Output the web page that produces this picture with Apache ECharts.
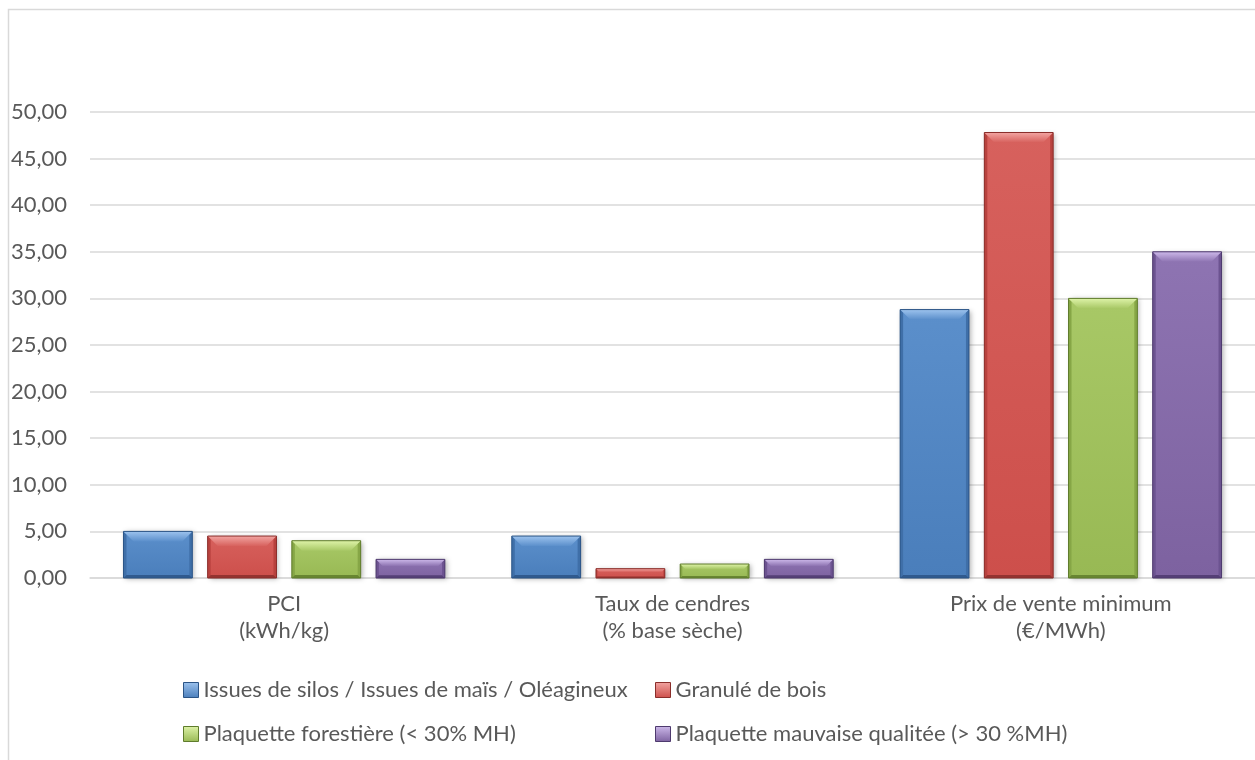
<!DOCTYPE html>
<html>
<head>
<meta charset="utf-8">
<script src="https://cdn.jsdelivr.net/npm/echarts@6/dist/echarts.min.js"></script>
<style>
  html, body { margin: 0; padding: 0; background: #ffffff; }
  #chart { width: 1255px; height: 760px; }
</style>
</head>
<body>
<div id="chart"></div>
<script>
// Categories (two-line axis labels)
const categories = ['PCI\n(kWh/kg)', 'Taux de cendres\n(% base sèche)', 'Prix de vente minimum\n(€/MWh)'];

// Series names
const seriesNames = [
  'Issues de silos / Issues de maïs / Oléagineux',
  'Granulé de bois',
  'Plaquette forestière (< 30% MH)',
  'Plaquette mauvaise qualitée (> 30 %MH)'
];

// Values per series, one per category
const silosValues     = [5.0, 4.5, 28.8];
const granuleValues   = [4.5, 1.0, 47.8];
const forestValues    = [4.0, 1.5, 30.0];
const mauvaiseValues  = [2.0, 2.0, 35.0];

// Y axis ticks
const yMin = 0, yMax = 50, yStep = 5;

const seriesValues = [silosValues, granuleValues, forestValues, mauvaiseValues];

// Bevel palette: body base, body light, top bevel, side, edge
const palettes = [
  { base: '#4a7ebb', light: '#5b8fcb', top: '#9dc3ee', side: '#3f6fa8', edge: '#2b5486' },
  { base: '#cd4f4b', light: '#d7615d', top: '#f2a5a2', side: '#b8423e', edge: '#8a2e2b' },
  { base: '#98b954', light: '#a8c866', top: '#def3a8', side: '#86a646', edge: '#5f7c2c' },
  { base: '#7d62a0', light: '#8e74b2', top: '#cdb9ea', side: '#6c5390', edge: '#4e3a6e' }
];

const FONT = 'Lato, "Open Sans", sans-serif';
const TEXT_COLOR = '#595959';

// Bar geometry as fractions of the category band
const BAR_FRAC = 0.1772;
const GAP_FRAC = 0.0396;

function vGrad(c1, c2) {
  return new echarts.graphic.LinearGradient(0, 0, 0, 1, [
    { offset: 0, color: c1 }, { offset: 1, color: c2 }
  ]);
}

function makeRender(sIdx) {
  const p = palettes[sIdx];
  return function (params, api) {
    const ci = api.value(0);
    const v = api.value(1);
    const base = api.coord([ci, 0]);
    const top = api.coord([ci, v]);
    const band = api.size([1, 0])[0];
    const w = band * BAR_FRAC;
    const g = band * GAP_FRAC;
    const total = 4 * w + 3 * g;
    const x0 = base[0] - total / 2 + sIdx * (w + g);
    const x1 = x0 + w;
    const y0 = top[1];
    const y1 = base[1];
    const h = y1 - y0;
    const b = Math.min(10, h * 0.35);   // top bevel depth
    const s = Math.min(3, h * 0.15);    // side / bottom bevel depth
    return {
      type: 'group',
      children: [
        {
          type: 'rect',
          shape: { x: x0, y: y0, width: w, height: h },
          style: {
            fill: vGrad(p.light, p.base),
            shadowBlur: 5, shadowOffsetX: 2, shadowOffsetY: 1,
            shadowColor: 'rgba(0,0,0,0.30)'
          }
        },
        {
          type: 'polygon',
          shape: { points: [[x0, y0], [x0 + s, y0 + s], [x0 + s, y1 - s], [x0, y1]] },
          style: { fill: p.side }
        },
        {
          type: 'polygon',
          shape: { points: [[x1, y0], [x1 - s, y0 + s], [x1 - s, y1 - s], [x1, y1]] },
          style: { fill: p.side }
        },
        {
          type: 'polygon',
          shape: { points: [[x0, y1], [x0 + s, y1 - s], [x1 - s, y1 - s], [x1, y1]] },
          style: { fill: p.edge, opacity: 0.85 }
        },
        {
          type: 'polygon',
          shape: { points: [[x0, y0], [x1, y0], [x1 - b, y0 + b], [x0 + b, y0 + b]] },
          style: { fill: vGrad(p.top, p.light) }
        },
        {
          type: 'rect',
          shape: { x: x0, y: y0, width: w, height: h },
          style: { fill: 'none', stroke: p.edge, lineWidth: 1 }
        }
      ]
    };
  };
}

const series = seriesValues.map((vals, sIdx) => ({
  name: seriesNames[sIdx],
  type: 'custom',
  renderItem: makeRender(sIdx),
  encode: { x: 0, y: 1 },
  itemStyle: { color: palettes[sIdx].base },
  data: vals.map((v, i) => [i, v])
}));

function legendItem(sIdx) {
  const p = palettes[sIdx];
  return {
    name: seriesNames[sIdx],
    itemStyle: { color: vGrad(p.top, p.base), borderColor: p.edge, borderWidth: 1 }
  };
}

const legendCommon = {
  orient: 'vertical',
  top: 671,
  itemGap: 16,
  itemWidth: 15,
  itemHeight: 15,
  icon: 'rect',
  selectedMode: false,
  textStyle: { fontFamily: FONT, fontSize: 22, color: TEXT_COLOR, lineHeight: 28 }
};

const option = {
  animation: false,
  backgroundColor: '#ffffff',
  graphic: [{
    type: 'rect',
    shape: { x: 8.5, y: 9.5, width: 1300, height: 800 },
    style: { fill: 'none', stroke: '#d9d9d9', lineWidth: 1.5 },
    silent: true
  }],
  grid: { left: 90, top: 112, width: 1168, bottom: 182, containLabel: false },
  legend: [
    Object.assign({}, legendCommon, { left: 178, data: [legendItem(0), legendItem(2)] }),
    Object.assign({}, legendCommon, { left: 650, data: [legendItem(1), legendItem(3)] })
  ],
  xAxis: {
    type: 'category',
    data: categories,
    axisLine: { show: true, lineStyle: { color: '#d9d9d9', width: 1.5 } },
    axisTick: { show: false },
    axisLabel: {
      fontFamily: FONT, fontSize: 22, color: TEXT_COLOR, lineHeight: 27,
      margin: 12, interval: 0, align: 'center'
    },
    splitLine: { show: false }
  },
  yAxis: {
    type: 'value',
    min: yMin, max: yMax, interval: yStep,
    axisLine: { show: false },
    axisTick: { show: false },
    axisLabel: {
      fontFamily: FONT, fontSize: 22, color: TEXT_COLOR, margin: 23,
      formatter: v => v.toFixed(2).replace('.', ',')
    },
    splitLine: { lineStyle: { color: '#d9d9d9', width: 1.5 } }
  },
  series: series
};

const chart = echarts.init(document.getElementById('chart'), null, { renderer: 'canvas' });
chart.setOption(option);
</script>
</body>
</html>
